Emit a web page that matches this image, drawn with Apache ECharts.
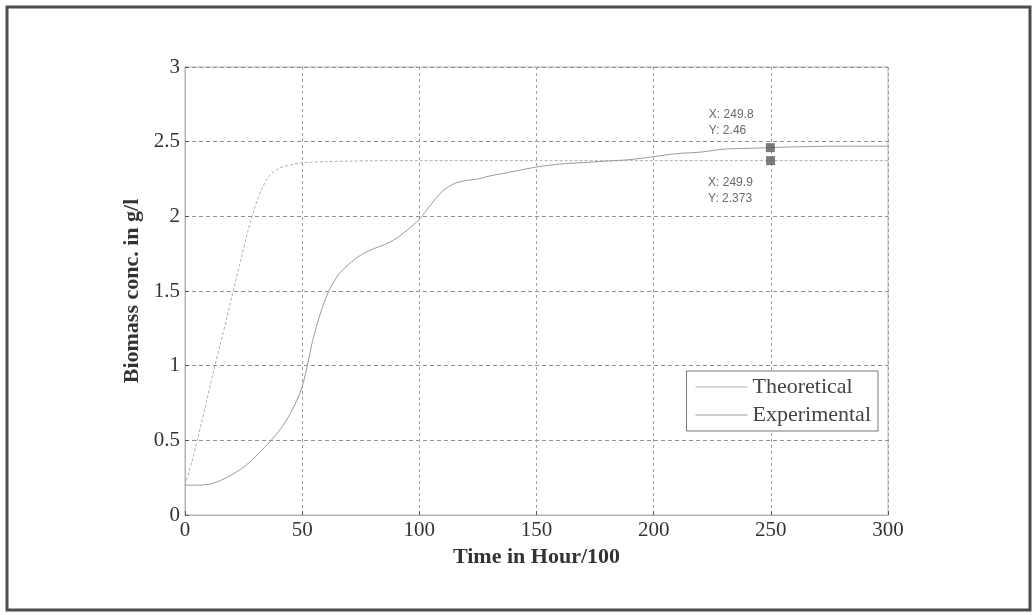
<!DOCTYPE html>
<html>
<head>
<meta charset="utf-8">
<script src="https://cdn.jsdelivr.net/npm/echarts@6/dist/echarts.min.js"></script>
<style>
  html, body { margin: 0; padding: 0; background: #fff; }
  #chart { width: 1036px; height: 615px; }
</style>
</head>
<body>
<div id="chart"></div>
<script>
// theoretical curve (fast growth)
const theoTime = [0, 3, 6, 9, 12, 15, 18, 21, 24, 27, 30, 33, 36, 40, 45, 50, 60, 70, 80, 100, 150, 200, 250, 300];
const theoConc = [0.2, 0.36, 0.55, 0.75, 0.95, 1.14, 1.33, 1.53, 1.72, 1.91, 2.07, 2.19, 2.27, 2.32, 2.345, 2.358, 2.366, 2.37, 2.372, 2.373, 2.373, 2.373, 2.373, 2.373];

// experimental curve
const expTime = [0, 5, 10, 15, 20, 25, 30, 35, 40, 45, 50, 55, 60, 65, 70, 75, 80, 85, 90, 95, 100, 105, 110, 115, 120, 125, 130, 140, 150, 160, 170, 180, 190, 200, 210, 220, 230, 240, 250, 260, 280, 300];
const expConc = [0.2, 0.2, 0.205, 0.23, 0.27, 0.32, 0.39, 0.47, 0.56, 0.68, 0.86, 1.2, 1.45, 1.6, 1.68, 1.74, 1.78, 1.81, 1.85, 1.91, 1.98, 2.08, 2.17, 2.22, 2.24, 2.25, 2.27, 2.3, 2.33, 2.35, 2.36, 2.37, 2.38, 2.4, 2.42, 2.43, 2.45, 2.455, 2.46, 2.465, 2.47, 2.47];

// data tips
const tipX = [249.8, 249.9];
const tipY = [2.46, 2.373];

const pairs = (xs, ys) => xs.map((x, i) => [x, ys[i]]);

const chart = echarts.init(document.getElementById("chart"));
const serif = "Liberation Serif";

const option = {
  animation: false,
  backgroundColor: "#fff",
  graphic: [
    {
      type: "rect",
      shape: { x: 7, y: 7, width: 1023, height: 603 },
      style: { fill: "none", stroke: "#4d4d4d", lineWidth: 3 },
    },
  ],
  grid: {
    left: 185,
    right: 148,
    top: 67,
    bottom: 100,
    show: true,
    borderColor: "#b5b5b5",
    borderWidth: 1,
  },
  legend: {
    right: 158,
    top: 371,
    orient: "vertical",
    data: ["Theoretical", "Experimental"],
    backgroundColor: "#fff",
    borderColor: "#777",
    borderWidth: 1,
    padding: [5, 7, 5, 9],
    itemGap: 6,
    itemWidth: 52,
    itemHeight: 1,
    icon: "rect",
    textStyle: { fontFamily: serif, fontSize: 22, color: "#444" },
  },
  xAxis: {
    type: "value",
    min: 0,
    max: 300,
    interval: 50,
    name: "Time in Hour/100",
    nameLocation: "middle",
    nameGap: 30,
    nameTextStyle: { fontFamily: serif, fontSize: 22, fontWeight: "bold", color: "#333" },
    axisLine: { show: true, lineStyle: { color: "#b5b5b5" } },
    axisTick: { show: true, inside: true, length: 4, lineStyle: { color: "#555" } },
    axisLabel: { fontFamily: serif, fontSize: 21, color: "#333", margin: 5 },
    splitLine: { show: true, lineStyle: { color: "#a0a0a0", type: [3, 3], width: 1 } },
  },
  yAxis: {
    type: "value",
    min: 0,
    max: 3,
    interval: 0.5,
    name: "Biomass conc. in g/l",
    nameLocation: "middle",
    nameGap: 41,
    nameTextStyle: { fontFamily: serif, fontSize: 22, fontWeight: "bold", color: "#333" },
    axisLine: { show: true, lineStyle: { color: "#b5b5b5" } },
    axisTick: { show: true, inside: true, length: 4, lineStyle: { color: "#555" } },
    axisLabel: { fontFamily: serif, fontSize: 21, color: "#333", margin: 5 },
    splitLine: { show: true, lineStyle: { color: "#8f8f8f", type: [4, 3], width: 1 } },
  },
  series: [
    {
      name: "Theoretical",
      type: "line",
      data: pairs(theoTime, theoConc),
      smooth: 0.3,
      symbol: "none",
      itemStyle: { color: "#b0b0b0" },
      lineStyle: { color: "#b0b0b0", width: 1, type: [3, 2] },
    },
    {
      name: "Experimental",
      type: "line",
      data: pairs(expTime, expConc),
      smooth: 0.3,
      symbol: "none",
      itemStyle: { color: "#9a9a9a" },
      lineStyle: { color: "#9a9a9a", width: 1 },
    },
    {
      name: "tips",
      type: "scatter",
      symbol: "rect",
      symbolSize: 9,
      itemStyle: { color: "#5a5a5a" },
      z: 5,
      data: pairs(tipX, tipY).map((p, i) => ({
        value: p,
        label: {
          show: true,
          position: i === 0 ? [-57, -36] : [-58, 19],
          align: "left",
          verticalAlign: "top",
          formatter: () => "X: " + p[0] + "\nY: " + p[1],
          fontFamily: "Liberation Sans",
          fontSize: 12,
          lineHeight: 16,
          color: "#444",
        },
      })),
    },
  ],
};
chart.setOption(option);
window.addEventListener("resize", chart.resize);
</script>
</body>
</html>
